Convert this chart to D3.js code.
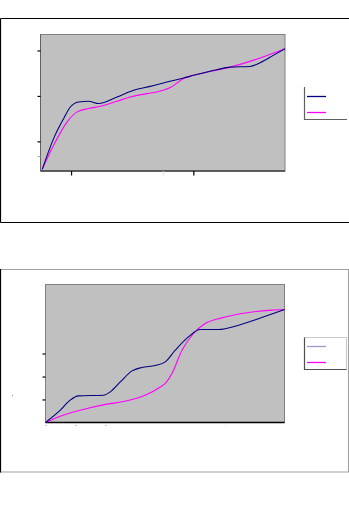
<!DOCTYPE html>
<html>
<head>
<meta charset="utf-8">
<script src="https://cdn.jsdelivr.net/npm/d3@7"></script>
<style>
html,body{margin:0;padding:0;background:#fff;}
svg{display:block;}
</style>
</head>
<body>
<svg id="c" width="349" height="512"></svg>
<script>
// ---- Chart 1 data (x: 0-100, y: 0-100) ----
const top_x        = [0.7, 5.4, 9.5, 12.2, 15.6, 19.7, 23.8, 31.3, 38.1, 44.9, 51.7, 58.5, 62.6, 72.1, 77.6, 85.7, 89.8, 95.2, 100];
const top_blue     = [1.2, 23.9, 38.5, 46.9, 50.6, 51.1, 49.4, 54.2, 59.1, 62.0, 65.2, 68.1, 70.1, 74.2, 76.1, 76.6, 79.3, 84.7, 89.6];
const top_mag_x    = [0.7, 5.4, 10.9, 15, 19.7, 24.5, 31.3, 36.7, 43.6, 47.6, 53.1, 58.5, 62.6, 77.6, 85.7, 100];
const top_magenta  = [1.2, 19, 36, 43.3, 45.8, 47.4, 51.1, 54.2, 56.7, 57.9, 61.1, 67.7, 70.1, 76.1, 80.3, 89.6];
const top_yTicksDark  = [21.7, 55, 88.3];
const top_yTicksLight = [10.9];
const top_xTicksDark  = [12.5, 62.5];
const top_xTicksLight = [50];

// ---- Chart 2 data ----
const bot_x        = [0, 6.2, 10.3, 13.8, 24.3, 27.1, 31.3, 36.2, 40.3, 45.9, 50.1, 54.3, 59.8, 64.7, 72.4, 80.8, 90.5, 100];
const bot_blue     = [0, 8.9, 16.2, 19.3, 19.8, 22.2, 29.4, 37.4, 39.9, 41.3, 43.9, 52.4, 62.0, 67.4, 67.4, 70.5, 76.1, 81.9];
const bot_mag_x    = [0, 6.2, 14.5, 25.7, 34.1, 42.4, 47.7, 50.1, 52.9, 57.1, 61.9, 66.8, 73.8, 82.2, 94.7, 100];
const bot_magenta  = [0, 4.6, 8.9, 13.3, 15.7, 20.3, 25.4, 28.3, 35.5, 52.4, 64.5, 71.7, 75.8, 79.0, 81.4, 81.9];
const bot_yTicks   = [16.7, 33.3, 50];
const bot_xTicks   = [0, 12.5, 25];
const bot_xTicksLight = [75];

const svg = d3.select("#c");
svg.append("rect").attr("width",349).attr("height",512).attr("fill","#fff");

function drawChart(o){
  const g = svg.append("g");
  const x = d3.scaleLinear().domain([0,100]).range([o.left,o.right]);
  const y = d3.scaleLinear().domain([0,100]).range([o.bottom,o.top]);
  // plot area
  g.append("rect").attr("x",o.left).attr("y",o.top)
    .attr("width",o.right-o.left).attr("height",o.bottom-o.top)
    .attr("fill","#c0c0c0").attr("stroke","#808080").attr("stroke-width",1);
  // axes
  const yAxis = d3.axisLeft(y).tickValues(o.yTicks).tickSize(3).tickFormat("");
  const ya = g.append("g").attr("transform",`translate(${o.left},0)`).call(yAxis);
  ya.select(".domain").attr("stroke",o.leftAxisColor).attr("d",`M0,${o.top}V${o.bottom}`);
  ya.selectAll(".tick line").attr("stroke","#000").attr("stroke-width",1.2);
  if(o.yTicksLight){
    const yl = g.append("g").attr("transform",`translate(${o.left},0)`)
      .call(d3.axisLeft(y).tickValues(o.yTicksLight).tickSize(3).tickFormat(""));
    yl.select(".domain").remove();
    yl.selectAll(".tick line").attr("stroke","#a8a8a8");
  }
  const xAxis = d3.axisBottom(x).tickValues(o.xTicks).tickSize(o.xTickSize).tickFormat("");
  const xa = g.append("g").attr("transform",`translate(0,${o.bottom})`).call(xAxis);
  xa.select(".domain").attr("stroke",o.bottomAxisColor).attr("stroke-width",1.3).attr("d",`M${o.left},0H${o.right}`);
  xa.selectAll(".tick line").attr("stroke",o.xTickColor).attr("stroke-width",1.2)
    .attr("y1",o.xTickOffset).attr("y2",o.xTickOffset+o.xTickSize);
  if(o.xTicksLight){
    const xl = g.append("g").attr("transform",`translate(0,${o.bottom})`)
      .call(d3.axisBottom(x).tickValues(o.xTicksLight).tickSize(o.xTickSize).tickFormat(""));
    xl.select(".domain").remove();
    xl.selectAll(".tick line").attr("stroke","#d8d8d8")
      .attr("y1",o.xTickOffset).attr("y2",o.xTickOffset+o.xTickSize);
  }
  const line = d3.line().x(d=>x(d[0])).y(d=>y(d[1])).curve(d3.curveMonotoneX);
  g.append("path").datum(o.magX.map((v,i)=>[v,o.mag[i]]))
    .attr("d",line).attr("fill","none").attr("stroke","#ff00ff").attr("stroke-width",1.1);
  g.append("path").datum(o.blueX.map((v,i)=>[v,o.blue[i]]))
    .attr("d",line).attr("fill","none").attr("stroke","#000080").attr("stroke-width",1.1);
}

// ---- Chart 1 ----
// outer frame
svg.append("path").attr("d","M0.5,18.5H360M0.5,18.5V222.5M0.5,222.5H360")
  .attr("fill","none").attr("stroke","#000").attr("stroke-width",1.2);
drawChart({left:40.5,right:285,top:34.5,bottom:171,
  yTicks:top_yTicksDark, yTicksLight:top_yTicksLight,
  xTicks:top_xTicksDark, xTicksLight:top_xTicksLight,
  xTickSize:4.5, xTickOffset:0, xTickColor:"#000",
  leftAxisColor:"#606060", bottomAxisColor:"#404040",
  blueX:top_x, blue:top_blue, magX:top_mag_x, mag:top_magenta});
// legend 1
svg.append("path").attr("d","M304.5,87V119.5H347").attr("fill","none").attr("stroke","#606060").attr("stroke-width",1.2);
svg.append("line").attr("x1",307).attr("x2",326).attr("y1",96.5).attr("y2",96.5).attr("stroke","#000080").attr("stroke-width",1.3);
svg.append("line").attr("x1",307).attr("x2",326).attr("y1",112.5).attr("y2",112.5).attr("stroke","#ff00ff").attr("stroke-width",1.3);

// ---- Chart 2 ----
svg.append("path").attr("d","M0.5,269.5H348.5V472H0.5").attr("fill","none").attr("stroke","#a0a0a0").attr("stroke-width",1.1);
svg.append("line").attr("x1",0.5).attr("x2",0.5).attr("y1",269).attr("y2",472.5).attr("stroke","#000").attr("stroke-width",1.2);
drawChart({left:45.5,right:284.5,top:284.5,bottom:422.5,
  yTicks:bot_yTicks, yTicksLight:null,
  xTicks:bot_xTicks, xTicksLight:bot_xTicksLight,
  xTickSize:1, xTickOffset:2.5, xTickColor:"#a0a0a0",
  leftAxisColor:"#808080", bottomAxisColor:"#000",
  blueX:bot_x, blue:bot_blue, magX:bot_mag_x, mag:bot_magenta});
// small mark left of chart 2
svg.append("rect").attr("x",12).attr("y",395).attr("width",1).attr("height",1).attr("fill","#808080");
// legend 2
svg.append("path").attr("d","M304.5,369.5V337.5H346.5V369.5").attr("fill","none").attr("stroke","#c8c8c8").attr("stroke-width",1);
svg.append("path").attr("d","M304.5,337.5V369.5H346.5").attr("fill","none").attr("stroke","#505050").attr("stroke-width",1.2);
svg.append("line").attr("x1",307).attr("x2",326).attr("y1",346.5).attr("y2",346.5).attr("stroke","#9999cc").attr("stroke-width",1.3);
svg.append("line").attr("x1",307).attr("x2",326).attr("y1",362.5).attr("y2",362.5).attr("stroke","#ff00ff").attr("stroke-width",1.3);
</script>
</body>
</html>
